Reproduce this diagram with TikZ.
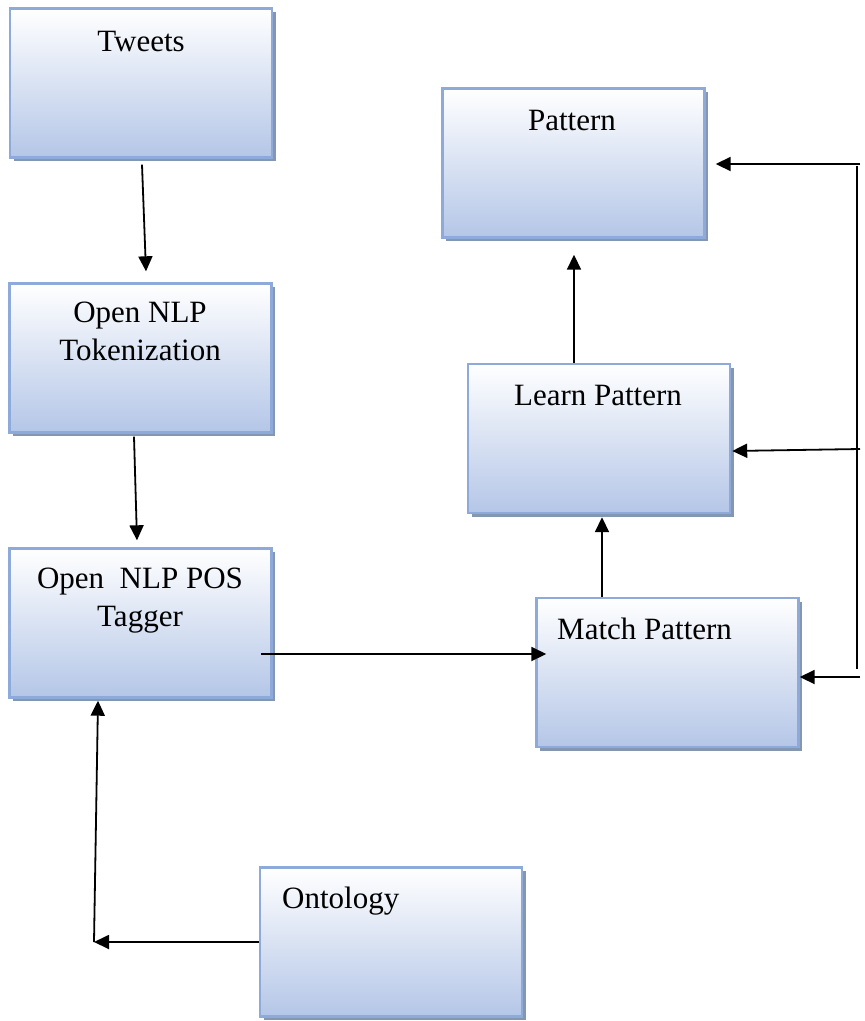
\documentclass[tikz,border=0pt]{standalone}
\usepackage{fontspec}
\setmainfont{Liberation Serif}
\usetikzlibrary{arrows.meta,shadows,calc}
\definecolor{boxborder}{RGB}{142,170,219}
\definecolor{boxbottom}{RGB}{180,198,231}
\definecolor{boxshadow}{RGB}{132,151,176}
\tikzset{
  box/.style={rectangle, draw=boxborder, line width=2.4pt,
    top color=white, bottom color=boxbottom,
    minimum width=262pt, minimum height=149pt, inner sep=0pt,
    drop shadow={shadow xshift=3.5pt, shadow yshift=-3.5pt, fill=boxshadow, opacity=1}},
  lbl/.style={inner sep=0pt, font=\fontsize{31}{38}\selectfont, align=center},
  arr/.style={line width=1.8pt, -{Triangle[length=15pt,width=14pt]}},
  ln/.style={line width=1.8pt}
}
\begin{document}
\begin{tikzpicture}[x=1pt,y=-1pt]
\useasboundingbox (0,0) rectangle (865,1021);
% boxes
\node[box] (tweets) at (141,83) {};
\node[box] (tok) at (140.5,358) {};
\node[box] (pos) at (140.5,623) {};
\node[box] (pattern) at (573.5,163) {};
\node[box] (learn) at (599,438.5) {};
\node[box] (match) at (667.5,672.5) {};
\node[box] (onto) at (391,942) {};
% texts
\node[lbl, anchor=base] (tweetsT) at (141,51) {Tweets};
\node[lbl, anchor=base] (patternT) at (572,130) {Pattern};
\node[lbl, anchor=base] (tokT) at (140,360) {Open NLP\\Tokenization};
\node[lbl, anchor=base] (posT) at (140,626) {Open\ \ NLP POS\\Tagger};
\node[lbl, anchor=base] (learnT) at (598,405) {Learn Pattern};
\node[lbl, anchor=base west] (matchT) at (557,639) {Match Pattern};
\node[lbl, anchor=base west] (ontoT) at (282,908) {Ontology};
% connectors
\draw[arr] ($(tweets.south)+(1,6)$) -- ($(tok.north)+(5.5,-11)$);
\draw[arr] ($(tok.south)+(-6.5,3)$) -- ($(pos.north)+(-3.5,-7)$);
\draw[arr] ($(pos.east)+(-11.5,31)$) -- ($(match.west)+(11,-18.5)$);
\draw[arr] ($(match.north)+(-65.5,0)$) -- ($(learn.south)+(3,3)$);
\draw[arr] ($(learn.north)+(-25,0)$) -- ($(pattern.south)+(0.5,16)$);
% feedback on the right
\coordinate (fbA) at (860,164);
\coordinate (fbB) at (860,449);
\coordinate (fbC) at (860,677);
\coordinate (fbV1) at (857,166);
\coordinate (fbV2) at (857,669);
\draw[ln] (fbV1) -- (fbV2);
\draw[arr] (fbA) -- ($(pattern.east)+(10,1)$);
\draw[arr] (fbB) -- ($(learn.east)+(1,12.5)$);
\draw[arr] (fbC) -- ($(match.east)+(0,4.5)$);
% ontology to POS tagger
\coordinate (corner) at (94,942);
\draw[arr] (onto.west) -- (corner);
\draw[arr] (corner) -- ($(pos.south)+(-42.5,2)$);
\end{tikzpicture}
\end{document}
